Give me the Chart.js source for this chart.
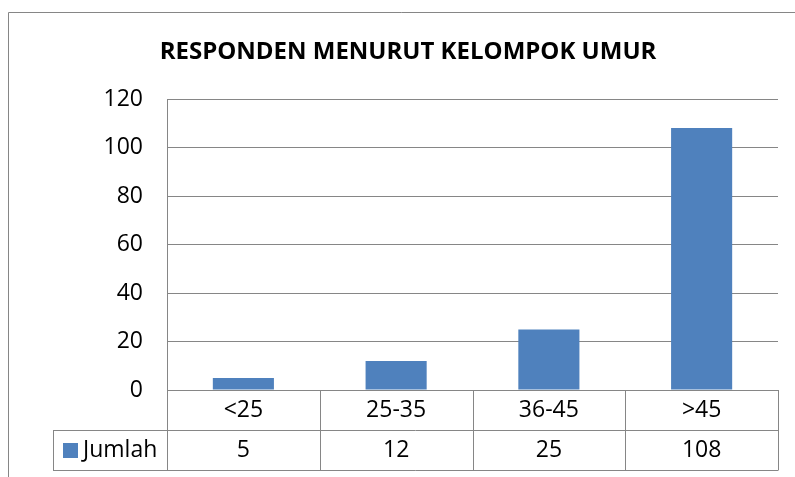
<!DOCTYPE html>
<html>
<head>
<meta charset="utf-8">
<script src="https://cdn.jsdelivr.net/npm/chart.js@4.4.1/dist/chart.umd.min.js"></script>
<style>
  body { margin: 0; background: #fff; }
  #wrap { width: 795px; height: 477px; }
</style>
</head>
<body>
<div id="wrap"><canvas id="chartUmur" width="795" height="477"></canvas></div>
<script>
const judul = 'RESPONDEN MENURUT KELOMPOK UMUR';
const kategori = ['<25', '25-35', '36-45', '>45'];
const namaSeri = 'Jumlah';
const jumlah = [5, 12, 25, 108];
const tickUmur = [0, 20, 40, 60, 80, 100, 120];

const warnaBar = '#4F81BD';
const warnaGaris = '#868686';
const huruf = '"Open Sans", "Noto Sans", sans-serif';

Chart.defaults.font.family = huruf;
Chart.defaults.color = '#000';

// tabel data di bawah grafik + judul + bingkai luar
const tabelData = {
    id: 'tabelData',
    afterDraw(chart) {
        const ctx = chart.ctx;
        const area = chart.chartArea;
        const x = chart.scales.x;
        const n = kategori.length;
        const lebar = (area.right - area.left) / n;
        const tinggiBaris = 40;
        const y0 = area.bottom;
        const y1 = y0 + tinggiBaris;
        const y2 = y1 + tinggiBaris;
        const kiriLegenda = 53;

        ctx.save();
        ctx.strokeStyle = warnaGaris;
        ctx.lineWidth = 1;
        ctx.beginPath();
        // bingkai luar
        ctx.moveTo(8.5, 477);
        ctx.lineTo(8.5, 12.5);
        ctx.lineTo(795, 12.5);
        // garis horizontal tabel
        ctx.moveTo(kiriLegenda, Math.round(y1) + 0.5);
        ctx.lineTo(area.right, Math.round(y1) + 0.5);
        ctx.moveTo(kiriLegenda, Math.round(y2) + 0.5);
        ctx.lineTo(area.right + 0.5, Math.round(y2) + 0.5);
        // garis vertikal tabel
        for (let i = 0; i <= n; i++) {
            const gx = Math.round(area.left + i * lebar) + 0.5;
            ctx.moveTo(gx, y0);
            ctx.lineTo(gx, y2);
        }
        ctx.moveTo(kiriLegenda + 0.5, y1);
        ctx.lineTo(kiriLegenda + 0.5, y2);
        ctx.stroke();

        // teks
        ctx.fillStyle = '#000';
        ctx.textBaseline = 'middle';
        ctx.textAlign = 'center';
        ctx.font = '23px ' + huruf;
        kategori.forEach((k, i) => {
            const cx = x.getPixelForValue(i);
            ctx.fillText(k, cx, y0 + tinggiBaris / 2);
            ctx.fillText(String(jumlah[i]), cx, y1 + tinggiBaris / 2);
        });

        // legenda
        ctx.fillStyle = warnaBar;
        ctx.fillRect(63, y1 + 13, 15, 15);
        ctx.fillStyle = '#000';
        ctx.textAlign = 'left';
        ctx.fillText(namaSeri, 83, y1 + tinggiBaris / 2);

        // judul
        ctx.textAlign = 'center';
        ctx.font = 'bold 24px ' + huruf;
        ctx.fillText(judul, 408, 52);
        ctx.restore();
    }
};

new Chart(document.getElementById('chartUmur'), {
    type: 'bar',
    data: {
        labels: kategori,
        datasets: [{
            label: namaSeri,
            data: jumlah,
            backgroundColor: warnaBar,
            borderWidth: 0,
            barPercentage: 0.4,
            categoryPercentage: 1
        }]
    },
    options: {
        responsive: false,
        animation: false,
        layout: {
            padding: { left: 0, right: 17, top: 99, bottom: 87 }
        },
        plugins: {
            legend: { display: false },
            title: { display: false },
            tooltip: { enabled: false }
        },
        scales: {
            x: {
                display: false
            },
            y: {
                min: tickUmur[0],
                max: tickUmur[tickUmur.length - 1],
                afterFit(scale) { scale.width = 167; },
                afterBuildTicks(scale) { scale.ticks = tickUmur.map(v => ({ value: v })); },
                ticks: {
                    padding: 24,
                    font: { size: 23 },
                    color: '#000'
                },
                grid: {
                    color: warnaGaris,
                    lineWidth: 1,
                    drawTicks: false
                },
                border: {
                    display: true,
                    color: warnaGaris,
                    width: 1
                }
            }
        }
    },
    plugins: [tabelData]
});
</script>
</body>
</html>
